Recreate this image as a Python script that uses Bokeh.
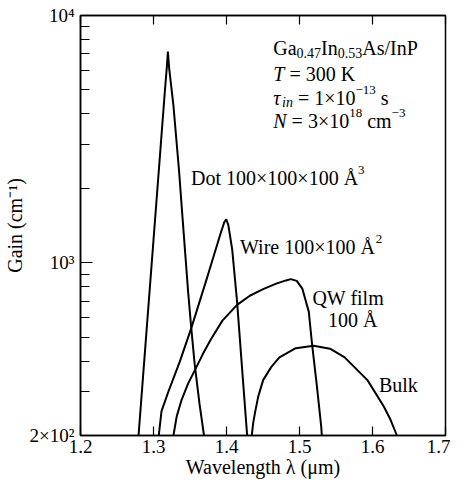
import math
from bokeh.plotting import figure
from bokeh.models import Label, FixedTicker, LinearAxis, Title
from bokeh.embed import file_html
from bokeh.resources import INLINE

FONT = "Liberation Serif"

# ---------------- data ----------------
x_ticks = [1.2, 1.3, 1.4, 1.5, 1.6, 1.7]
y_major = [200, 1000, 10000]
y_minor = [300, 400, 500, 600, 700, 800, 900,
           2000, 3000, 4000, 5000, 6000, 7000, 8000, 9000]
y_tick_labels = {200: "2×10²", 1000: "10³", 10000: "10⁴"}

dot_wl = [1.2795, 1.2900, 1.3000, 1.3100, 1.3160, 1.3185, 1.3197, 1.3215,
          1.3273, 1.3350, 1.3398, 1.3475, 1.3519, 1.3564, 1.3630, 1.3692]
dot_gain = [200, 508, 1236, 3006, 5125, 6300, 7140, 6100,
            4325, 2355, 1514, 759, 537, 389, 269, 200]

wire_wl = [1.3072, 1.3110, 1.3206, 1.3360, 1.3519, 1.3743, 1.3921, 1.3970,
           1.3997, 1.4025, 1.4078, 1.4145, 1.4212, 1.4283]
wire_gain = [200, 251, 302, 398, 545, 887, 1318, 1460,
             1498, 1420, 1132, 695, 378, 200]

qw_wl = [1.3273, 1.3318, 1.3385, 1.3475, 1.3564, 1.3676, 1.3787, 1.3944,
         1.4145, 1.4319, 1.4502, 1.4681, 1.4815, 1.4882, 1.4962, 1.5039,
         1.5127, 1.5172, 1.5239, 1.5297, 1.5306]
qw_gain = [200, 239, 279, 325, 366, 427, 490, 583,
           675, 735, 782, 823, 848, 858, 844, 785,
           634, 468, 315, 218, 200]

bulk_wl = [1.4346, 1.4366, 1.4390, 1.4435, 1.4502, 1.4614, 1.4725, 1.4949,
           1.5194, 1.5418, 1.5619, 1.5931, 1.6155, 1.6249, 1.6334]
bulk_gain = [200, 225, 247, 288, 335, 379, 414, 451,
             461, 449, 414, 335, 262, 231, 200]

# ---------------- layout ----------------
W_FIG, H_FIG = 450, 482
B_LEFT, B_RIGHT, B_TOP, B_BOTTOM = 80, 5, 15, 47
MFL, MFR = B_LEFT, W_FIG - B_RIGHT
MFT, MFB = B_TOP, H_FIG - B_BOTTOM

# reference frame (pixels of the reference picture) -> data coords
RFL, RFR, RFT, RFB = 80, 453, 15, 443
X0, X1 = 1.2, 1.7
LY0, LY1 = math.log10(200), 4.0


def dx(px):
    return X0 + (px - RFL) / (RFR - RFL) * (X1 - X0)


def dly(py):
    return LY0 + (RFB - py) / (RFB - RFT) * (LY1 - LY0)


XPP = (X1 - X0) / (MFR - MFL)      # data per screen pixel (x)
LPP = (LY1 - LY0) / (MFB - MFT)    # log-decades per screen pixel (y)

W = {' ': 0.25, '(': 0.333, ')': 0.333, '.': 0.25, '/': 0.278, '=': 0.564,
     '×': 0.564, '−': 0.564, 'A': 0.722, 'B': 0.667, 'D': 0.722, 'G': 0.722,
     'I': 0.333, 'K': 0.722, 'N': 0.722, 'P': 0.556, 'Q': 0.722, 'T': 0.611,
     'W': 0.944, 'a': 0.444, 'c': 0.444, 'e': 0.444, 'f': 0.333, 'g': 0.5,
     'h': 0.5, 'i': 0.278, 'k': 0.5, 'l': 0.278, 'm': 0.778, 'n': 0.5,
     'o': 0.5, 'r': 0.333, 's': 0.389, 't': 0.278, 'u': 0.5, 'v': 0.5,
     'Å': 0.722, 'μ': 0.576, 'λ': 0.55, 'τ': 0.44}
WI = {'T': 0.556, 'N': 0.667, 'i': 0.278, 'n': 0.5, 'λ': 0.55, 'τ': 0.44}


def tw(s, size, italic=False):
    tot = 0.0
    for ch in s:
        if italic and ch in WI:
            tot += WI[ch]
        else:
            tot += W.get(ch, 0.5)
    return tot * size


# ---------------- figure ----------------
p = figure(width=W_FIG, height=H_FIG, x_range=(X0, X1), y_range=(200, 10000),
           y_axis_type="log", output_backend="svg", toolbar_location=None,
           min_border_left=B_LEFT, min_border_right=B_RIGHT,
           min_border_top=B_TOP, min_border_bottom=B_BOTTOM)
p.grid.visible = False
p.background_fill_color = "white"
p.border_fill_color = "white"
p.outline_line_color = "black"
p.outline_line_width = 1.5

xa = p.xaxis[0]
xa.ticker = FixedTicker(ticks=x_ticks)
xa.major_tick_in = 9
xa.major_tick_out = 0
xa.minor_tick_line_color = None
xa.major_label_standoff = 4
xa.major_label_text_font = FONT
xa.major_label_text_font_size = "19px"
xa.major_label_text_color = "black"
xa.axis_line_color = "black"
xa.axis_line_width = 1.5
xa.major_tick_line_color = "black"
xa.major_tick_line_width = 1.2
xa.axis_label = "Wavelength λ (μm)"
xa.axis_label_text_font = FONT
xa.axis_label_text_font_size = "20px"
xa.axis_label_text_font_style = "normal"
xa.axis_label_text_color = "black"
xa.axis_label_standoff = 0

ya = p.yaxis[0]
ya.ticker = FixedTicker(ticks=y_major, minor_ticks=y_minor)
ya.major_label_overrides = y_tick_labels
ya.major_tick_in = 12
ya.major_tick_out = 0
ya.minor_tick_in = 9
ya.minor_tick_out = 0
ya.major_label_standoff = 6
ya.major_label_text_font = FONT
ya.major_label_text_font_size = "19px"
ya.major_label_text_color = "black"
ya.axis_line_color = "black"
ya.axis_line_width = 1.5
ya.major_tick_line_color = "black"
ya.minor_tick_line_color = "black"
ya.major_tick_line_width = 1.2
ya.minor_tick_line_width = 1.2

top = LinearAxis(ticker=FixedTicker(ticks=x_ticks))
top.major_tick_in = 9
top.major_tick_out = 0
top.minor_tick_line_color = None
top.major_label_text_font_size = "1px"
top.major_label_text_color = None
top.major_label_standoff = 0
top.axis_line_color = "black"
top.axis_line_width = 1.5
top.major_tick_line_color = "black"
top.major_tick_line_width = 1.2
p.add_layout(top, "above")

ytitle = Title(text="Gain (cm⁻¹)", align="center", offset=-37, standoff=2,
               text_font=FONT, text_font_size="20px", text_font_style="normal",
               text_color="black")
p.add_layout(ytitle, "left")

for xs, ys in [(dot_wl, dot_gain), (wire_wl, wire_gain),
               (qw_wl, qw_gain), (bulk_wl, bulk_gain)]:
    p.line(xs, ys, line_color="black", line_width=2)


def place(x_px, base_px, runs):
    xd = dx(x_px)
    ly = dly(base_px)
    for text, size, italic, rise in runs:
        stripped = text.lstrip(" ")
        xd += tw(text[:len(text) - len(stripped)], size) * XPP
        p.add_layout(Label(x=xd, y=10 ** (ly + rise * LPP), text=stripped,
                           text_font=FONT, text_font_size=f"{size}px",
                           text_font_style="italic" if italic else "normal",
                           text_align="left", text_baseline="alphabetic",
                           text_color="black"))
        xd += tw(stripped, size, italic) * XPP


place(277, 48, [("Ga", 20, False, 0), ("0.47", 14, False, -5),
                ("In", 20, False, 0), ("0.53", 14, False, -5),
                ("As/InP", 20, False, 0)])
place(277, 75, [("T", 20, True, 0), (" = 300 K", 20, False, 0)])
place(277, 99, [("τ", 20, True, 0), ("in", 14, True, -5),
                (" = 1×10", 20, False, 0), ("−13", 13, False, 8),
                (" s", 20, False, 0)])
place(277, 122, [("N", 20, True, 0), (" = 3×10", 20, False, 0),
                 ("18", 13, False, 8), (" cm", 20, False, 0),
                 ("−3", 13, False, 8)])

place(193, 181, [("Dot 100×100×100 Å", 20, False, 0), ("3", 13, False, 8)])
place(243, 251, [("Wire 100×100 Å", 20, False, 0), ("2", 13, False, 8)])
place(317, 303, [("QW film", 20, False, 0)])
place(333, 325, [("100 Å", 20, False, 0)])
place(385, 392, [("Bulk", 20, False, 0)])

open("out.html", "w").write(file_html(p, INLINE))
